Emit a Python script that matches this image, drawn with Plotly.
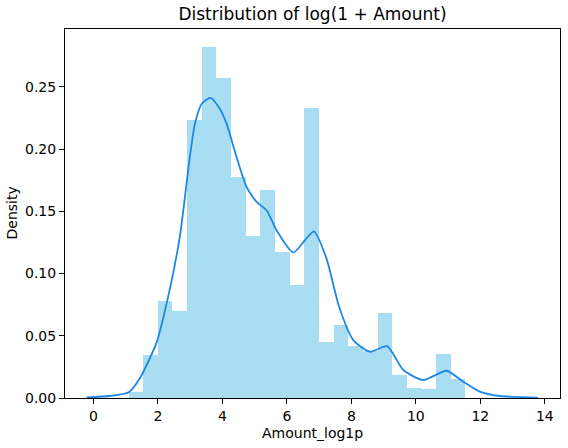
import plotly.graph_objects as go

# histogram bins (left edges + last right edge) and density heights
bin_edges = [1.090, 1.544, 1.999, 2.453, 2.907, 3.362, 3.816, 4.270, 4.724,
             5.179, 5.633, 6.087, 6.542, 6.996, 7.450, 7.905, 8.359, 8.813,
             9.267, 9.722, 10.176, 10.630, 11.085, 11.539]
density = [0.005, 0.0345, 0.0778, 0.0700, 0.2237, 0.2825, 0.2570, 0.1780,
           0.1300, 0.1670, 0.1170, 0.0910, 0.2330, 0.0447, 0.0590, 0.0420,
           0.0380, 0.0680, 0.0185, 0.0078, 0.0070, 0.0353, 0.0150]

# kde curve
kde_x = [-0.21, 0.51, 1.10, 1.44, 1.96, 2.37, 2.68, 2.84, 2.99, 3.15, 3.36,
         3.63, 3.92, 4.13, 4.44, 4.75, 5.06, 5.37, 5.68, 6.20, 6.56, 6.84,
         7.23, 7.62, 8.06, 8.57, 9.11, 9.61, 10.23, 10.95, 11.47, 11.98,
         12.60, 13.79]
kde_y = [0.0005, 0.0016, 0.0046, 0.0158, 0.0445, 0.0875, 0.1295, 0.1616,
         0.1937, 0.2205, 0.2365, 0.2413, 0.2325, 0.2205, 0.1937, 0.1696,
         0.1576, 0.1509, 0.1348, 0.1169, 0.1268, 0.1340, 0.1120, 0.0733,
         0.0465, 0.0372, 0.0417, 0.0225, 0.0144, 0.0219, 0.0131, 0.0051,
         0.0016, 0.0003]

x_ticks = [0, 2, 4, 6, 8, 10, 12, 14]
y_ticks = [0.00, 0.05, 0.10, 0.15, 0.20, 0.25]

centers = [(a + b) / 2 for a, b in zip(bin_edges[:-1], bin_edges[1:])]
widths = [b - a for a, b in zip(bin_edges[:-1], bin_edges[1:])]

font = "DejaVu Sans"

fig = go.Figure()
fig.add_trace(go.Bar(x=centers, y=density, width=widths,
                     marker=dict(color="#a9def2", line=dict(width=0)),
                     showlegend=False))
fig.add_trace(go.Scatter(x=kde_x, y=kde_y, mode="lines",
                         line=dict(color="#1f88e5", width=1.8, shape="spline", smoothing=0.6),
                         showlegend=False))

axis_common = dict(showline=True, linecolor="black", linewidth=1.1, mirror=True,
                   ticks="outside", ticklen=5, tickwidth=1.1, tickcolor="black",
                   showgrid=False, zeroline=False,
                   tickfont=dict(family=font, size=14, color="black"))

fig.update_layout(
    width=568, height=448,
    margin=dict(l=65, r=8, t=28.5, b=50),
    paper_bgcolor="white", plot_bgcolor="white",
    bargap=0,
    title=dict(text="Distribution of log(1 + Amount)", x=0.5, xref="paper",
               y=1 - 14 / 448, yref="container", yanchor="middle", xanchor="center",
               font=dict(family=font, size=17, color="black")),
    xaxis=dict(range=[-0.88, 14.47], tickvals=x_ticks, **axis_common),
    yaxis=dict(range=[0, 0.2966], tickvals=y_ticks, tickformat=".2f", **axis_common),
    annotations=[
        dict(text="Amount_log1p", x=0.5, y=0, xref="paper", yref="paper",
             xanchor="center", yanchor="middle", yshift=-35, showarrow=False,
             font=dict(family=font, size=14, color="black")),
        dict(text="Density", x=0, y=0.5, xref="paper", yref="paper", textangle=-90,
             xanchor="center", yanchor="middle", xshift=-54, showarrow=False,
             font=dict(family=font, size=14, color="black")),
    ],
)

# drop the default 8px page margin so the figure fills the window exactly
fig.write_html("out.html", config={"displayModeBar": False},
               post_script="document.body.style.margin='0';")
